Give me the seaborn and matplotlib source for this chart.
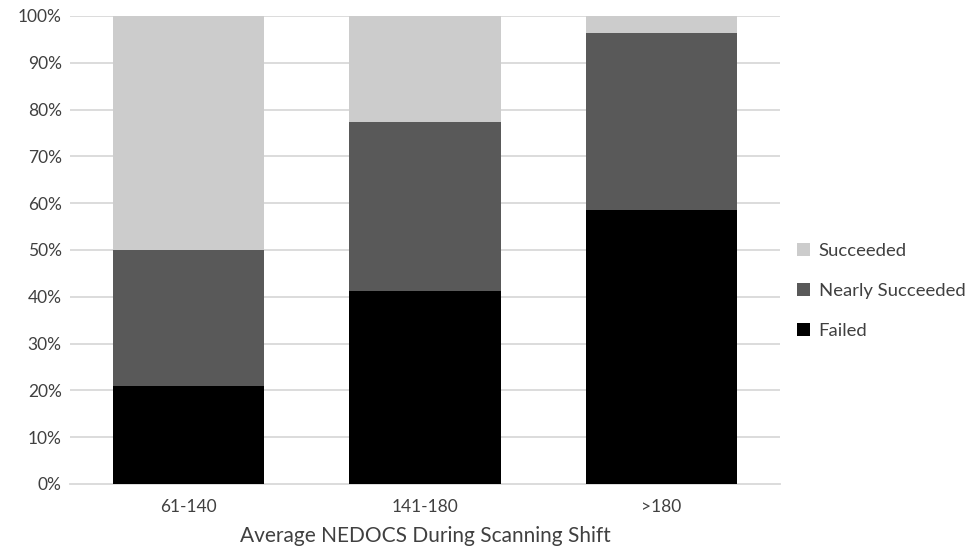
import matplotlib
matplotlib.use("Agg")
import matplotlib.pyplot as plt
import seaborn as sns
import pandas as pd
import numpy as np
from matplotlib.patches import Patch

categories = ["61-140", "141-180", ">180"]
failed = [21.0, 41.2, 58.5]
nearly = [29.0, 36.2, 37.9]
succeeded = [50.0, 22.6, 3.6]

sns.set_theme(style="white")
plt.rcParams['font.family'] = ['Lato', 'DejaVu Sans']

fig = plt.figure(figsize=(9.71, 5.5), dpi=100)
ax = fig.add_axes([0.0721, 0.12, 0.731, 0.851])

cum_nearly = [f + n for f, n in zip(failed, nearly)]
cum_all = [f + n + s for f, n, s in zip(failed, nearly, succeeded)]

colors = {"Succeeded": "#cccccc", "Nearly Succeeded": "#595959", "Failed": "#000000"}

ax.set_axisbelow(True)
for y in range(10, 101, 10):
    ax.axhline(y, color="#d9d9d9", lw=1.3, zorder=0)

sns.barplot(x=categories, y=cum_all, color=colors["Succeeded"], width=0.64,
            saturation=1, ax=ax, edgecolor="none", zorder=2)
sns.barplot(x=categories, y=cum_nearly, color=colors["Nearly Succeeded"], width=0.64,
            saturation=1, ax=ax, edgecolor="none", zorder=3)
sns.barplot(x=categories, y=failed, color=colors["Failed"], width=0.64,
            saturation=1, ax=ax, edgecolor="none", zorder=4)

ax.set_ylim(0, 100)
ax.set_xlim(-0.5, 2.5)
ax.set_yticks(range(0, 101, 10))
ax.set_yticklabels([f"{v}%" for v in range(0, 101, 10)])
ax.tick_params(axis="both", length=0, labelsize=12.5, colors="#404040")
ax.tick_params(axis="x", pad=11)
ax.tick_params(axis="y", pad=6)
for s in ["top", "right", "left"]:
    ax.spines[s].set_visible(False)
ax.spines["bottom"].set_color("#d9d9d9")
ax.spines["bottom"].set_linewidth(1.3)
ax.set_xlabel("Average NEDOCS During Scanning Shift", fontsize=15, color="#404040", labelpad=8)
ax.set_ylabel("")

handles = [Patch(facecolor=colors[k], edgecolor="none", label=k)
           for k in ["Succeeded", "Nearly Succeeded", "Failed"]]
fig.legend(handles=handles, loc="center left", bbox_to_anchor=(0.804, 0.471),
           frameon=False, fontsize=13.3, handlelength=0.7, handleheight=0.7,
           handletextpad=0.45, labelspacing=1.3, labelcolor="#404040")

fig.savefig("out.png", dpi=100)
